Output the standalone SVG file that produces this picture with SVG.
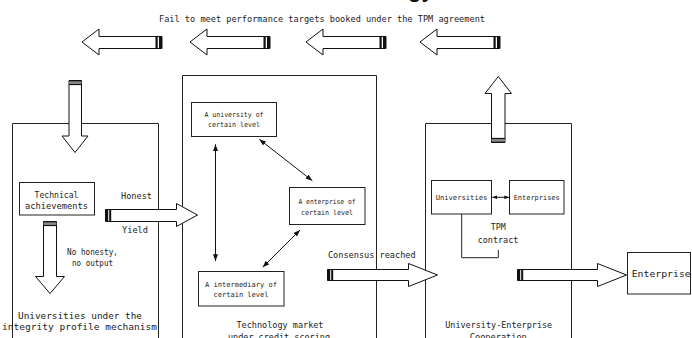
<svg xmlns="http://www.w3.org/2000/svg" width="692" height="338" viewBox="0 0 692 338">
  <defs>
    <style>
      .frame{fill:none;stroke:#222;stroke-width:1}
      .box{fill:#fff;stroke:#222;stroke-width:1}
      .t{font-family:"DejaVu Sans Mono","Liberation Mono",monospace;font-size:8.6px;fill:#222;text-anchor:middle}
      .s{font-size:7px}
      .blk{fill:#fff;stroke:#111;stroke-width:1}
      .bar{fill:#111}
      .grey{fill:#888}
      .ln{fill:none;stroke:#111;stroke-width:1;marker-start:url(#ah);marker-end:url(#ah)}
      .ln2{fill:none;stroke:#111;stroke-width:1;marker-start:url(#ahs);marker-end:url(#ahs)}
      .br{fill:none;stroke:#222;stroke-width:1}
    </style>
    <marker id="ah" viewBox="0 0 8 6" refX="8" refY="3" markerWidth="7" markerHeight="5" markerUnits="userSpaceOnUse" orient="auto-start-reverse">
      <path d="M0,0 L8,3 L0,6 z" fill="#111"/>
    </marker>
    <marker id="ahs" viewBox="0 0 8 6" refX="8" refY="3" markerWidth="5" markerHeight="4" markerUnits="userSpaceOnUse" orient="auto-start-reverse">
      <path d="M0,0 L8,3 L0,6 z" fill="#111"/>
    </marker>
    <!-- striped block arrow pointing left, tip at origin -->
    <g id="fb-arrow">
      <polygon class="blk" points="80,-5.5 17,-5.5 17,-13 0,0 17,13 17,6.5 80,6.5"/>
      <rect class="bar" x="73.5" y="-5.5" width="2.2" height="12"/>
      <rect class="bar" x="77" y="-5.5" width="3" height="12"/>
    </g>
  </defs>

  <rect width="692" height="338" fill="#fff"/>

  <!-- title descenders cut off at the top edge -->
  <text x="408" y="-3" font-family="Liberation Sans, Arial, sans-serif" font-size="22" font-weight="bold" fill="#111">gy</text>

  <g id="universities-panel">
    <path class="frame" d="M12.5,340 V123.5 H158.5 V340"/>
    <text class="t" x="80" y="319" textLength="124" lengthAdjust="spacingAndGlyphs">Universities under the</text>
    <text class="t" x="79.5" y="330" textLength="155" lengthAdjust="spacingAndGlyphs">integrity profile mechanism</text>
    <text class="t" x="92.5" y="254.5" textLength="51" lengthAdjust="spacingAndGlyphs">No honesty,</text>
    <text class="t" x="92.5" y="266" textLength="41" lengthAdjust="spacingAndGlyphs">no output</text>
  </g>

  <g id="technical-achievements">
    <rect class="box" x="19.5" y="182.5" width="75" height="32.5"/>
    <text class="t" x="56.5" y="198" textLength="44" lengthAdjust="spacingAndGlyphs">Technical</text>
    <text class="t" x="56.5" y="209" textLength="63" lengthAdjust="spacingAndGlyphs">achievements</text>
  </g>

  <g id="technology-market">
    <path class="frame" d="M182.5,340 V75.5 H376.5 V340"/>
    <text class="t" x="280" y="328" textLength="87" lengthAdjust="spacingAndGlyphs">Technology market</text>
    <text class="t" x="279" y="340" textLength="102" lengthAdjust="spacingAndGlyphs">under credit scoring</text>
  </g>

  <g id="university-level">
    <rect class="box" x="191.5" y="102.5" width="85" height="34"/>
    <text class="t s" x="234" y="116.5" textLength="59" lengthAdjust="spacingAndGlyphs">A university of</text>
    <text class="t s" x="234" y="126.5" textLength="52" lengthAdjust="spacingAndGlyphs">certain level</text>
  </g>

  <g id="enterprise-level">
    <rect class="box" x="289.5" y="187.5" width="75.5" height="37"/>
    <text class="t s" x="327" y="204.2" textLength="57" lengthAdjust="spacingAndGlyphs">A enterprise of</text>
    <text class="t s" x="327" y="214.8" textLength="52" lengthAdjust="spacingAndGlyphs">certain level</text>
  </g>

  <g id="intermediary-level">
    <rect class="box" x="198.5" y="271.5" width="85.5" height="34.5"/>
    <text class="t s" x="241" y="286.8" textLength="72" lengthAdjust="spacingAndGlyphs">A intermediary of</text>
    <text class="t s" x="241" y="296.8" textLength="55" lengthAdjust="spacingAndGlyphs">certain level</text>
  </g>

  <g id="cooperation-panel">
    <path class="frame" d="M425.5,340 V123.5 H571.5 V340"/>
    <text class="t" x="498.7" y="328" textLength="107" lengthAdjust="spacingAndGlyphs">University-Enterprise</text>
    <text class="t" x="498.3" y="340" textLength="57" lengthAdjust="spacingAndGlyphs">Cooperation</text>
    <path class="br" d="M461.7,214 V257.7 H498.3 V250"/>
    <text class="t" x="498.3" y="229.5" textLength="15" lengthAdjust="spacingAndGlyphs">TPM</text>
    <text class="t" x="498" y="242.8" textLength="40.6" lengthAdjust="spacingAndGlyphs">contract</text>
  </g>

  <g id="universities">
    <rect class="box" x="431.5" y="180.5" width="60" height="33.5"/>
    <text class="t s" x="461.5" y="199.8" textLength="51.7" lengthAdjust="spacingAndGlyphs">Universities</text>
  </g>

  <g id="enterprises">
    <rect class="box" x="509.5" y="180.5" width="54.5" height="33.5"/>
    <text class="t s" x="536.7" y="199.8" textLength="46" lengthAdjust="spacingAndGlyphs">Enterprises</text>
  </g>

  <g id="enterprise">
    <rect class="box" x="627.5" y="252.5" width="63" height="41.5"/>
    <text class="t" x="661.2" y="277.3" font-size="11" textLength="59" lengthAdjust="spacingAndGlyphs">Enterprise</text>
  </g>

  <g id="connectors">
    <!-- feedback arrows along the top -->
    <text class="t" x="322" y="22" textLength="326" lengthAdjust="spacingAndGlyphs">Fail to meet performance targets booked under the TPM agreement</text>
    <use href="#fb-arrow" transform="translate(82,42)"/>
    <use href="#fb-arrow" transform="translate(190,42)"/>
    <use href="#fb-arrow" transform="translate(306,42)"/>
    <use href="#fb-arrow" transform="translate(420,42)"/>

    <!-- down arrow into the universities panel -->
    <polygon class="blk" points="69,80.5 81.5,80.5 81.5,136 88,136 75,152.5 62,136 69,136"/>
    <rect class="bar" x="69" y="80.5" width="12.5" height="1.2"/>
    <rect class="grey" x="69" y="81.7" width="12.5" height="2.2"/>
    <rect class="bar" x="69" y="83.9" width="12.5" height="1.2"/>

    <!-- no honesty, no output -->
    <polygon class="blk" points="43.5,221.5 56.5,221.5 56.5,276.5 64.5,276.5 50,293.5 35.5,276.5 43.5,276.5"/>
    <rect class="bar" x="43.5" y="221.5" width="13" height="1.2"/>
    <rect class="grey" x="43.5" y="222.7" width="13" height="2.2"/>
    <rect class="bar" x="43.5" y="224.9" width="13" height="1.2"/>

    <!-- honest yield into the market -->
    <text class="t" x="136.5" y="198.5" textLength="31" lengthAdjust="spacingAndGlyphs">Honest</text>
    <text class="t" x="135" y="233" textLength="26" lengthAdjust="spacingAndGlyphs">Yield</text>
    <polygon class="blk" points="105.5,209.5 176.5,209.5 176.5,203.5 197.5,215 176.5,226.5 176.5,221.5 105.5,221.5"/>
    <rect class="bar" x="105.5" y="209.5" width="2.7" height="12"/>
    <rect class="bar" x="109.2" y="209.5" width="2" height="12"/>

    <!-- relations inside the technology market -->
    <line class="ln" x1="215.5" y1="144.3" x2="215.5" y2="261"/>
    <line class="ln" x1="259.3" y1="139.3" x2="312.3" y2="180.7"/>
    <line class="ln" x1="300" y1="230" x2="262.7" y2="267.3"/>

    <!-- consensus reached -->
    <text class="t" x="371.8" y="258" textLength="87.7" lengthAdjust="spacingAndGlyphs">Consensus reached</text>
    <polygon class="blk" points="327.5,269.5 408.5,269.5 408.5,263.5 437.5,275 408.5,286.5 408.5,280.5 327.5,280.5"/>
    <rect class="bar" x="327.5" y="269.5" width="2.7" height="11"/>
    <rect class="bar" x="331.2" y="269.5" width="2" height="11"/>

    <!-- universities <-> enterprises -->
    <line class="ln2" x1="492.3" y1="197.3" x2="509.3" y2="197.3"/>

    <!-- up arrow out of cooperation -->
    <polygon class="blk" points="491.5,142.5 505,142.5 505,93.5 511.5,93.5 498.3,76.5 485,93.5 491.5,93.5"/>
    <rect class="bar" x="491.5" y="141.3" width="13.5" height="1.2"/>
    <rect class="grey" x="491.5" y="139.1" width="13.5" height="2.2"/>
    <rect class="bar" x="491.5" y="137.9" width="13.5" height="1.2"/>

    <!-- cooperation to enterprise -->
    <polygon class="blk" points="517.5,269.5 597.5,269.5 597.5,263.5 626.5,275 597.5,286.5 597.5,280.5 517.5,280.5"/>
    <rect class="bar" x="517.5" y="269.5" width="2.7" height="11"/>
    <rect class="bar" x="521.2" y="269.5" width="2" height="11"/>
  </g>
</svg>
